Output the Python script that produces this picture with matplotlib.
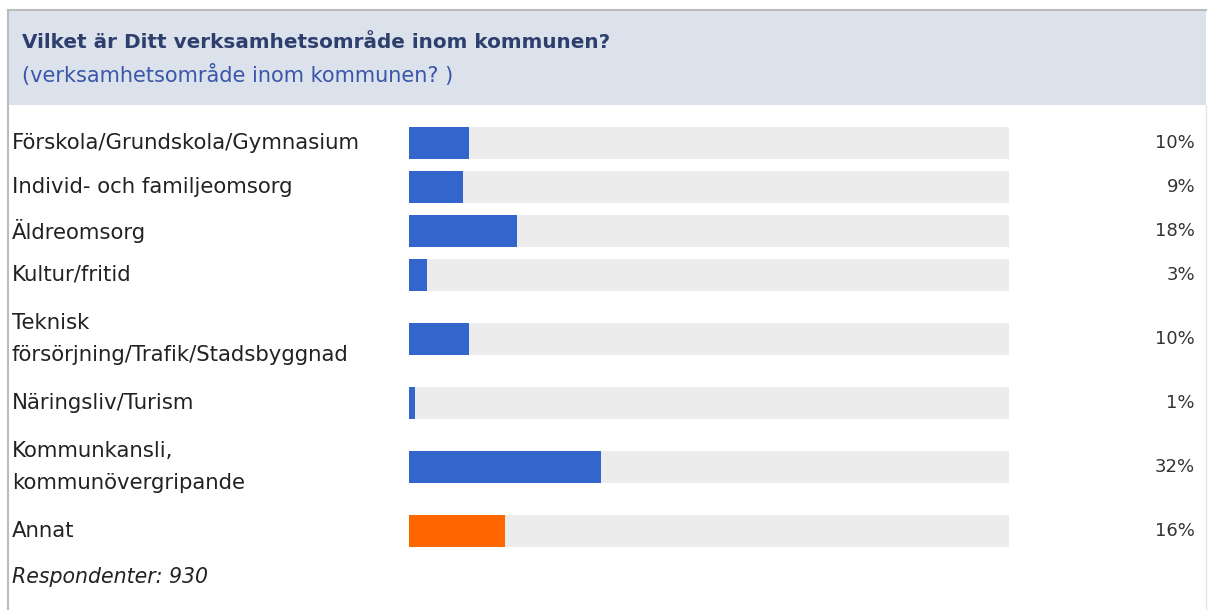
import matplotlib.pyplot as plt
from matplotlib.patches import Rectangle

# data
title = 'Vilket är Ditt verksamhetsområde inom kommunen?'
subtitle = '(verksamhetsområde inom kommunen? )'
labels = ['Förskola/Grundskola/Gymnasium',
          'Individ- och familjeomsorg',
          'Äldreomsorg',
          'Kultur/fritid',
          'Teknisk\nförsörjning/Trafik/Stadsbyggnad',
          'Näringsliv/Turism',
          'Kommunkansli,\nkommunövergripande',
          'Annat']
values = [10, 9, 18, 3, 10, 1, 32, 16]
colors = ['#3366cc'] * 7 + ['#ff6600']
respondents = 930

W, H = 1208, 610
fig = plt.figure(figsize=(W / 100, H / 100), dpi=100)

# background / frame in pixel coords
ax = fig.add_axes([0, 0, 1, 1])
ax.set_xlim(0, W)
ax.set_ylim(H, 0)
ax.axis('off')
ax.add_patch(Rectangle((8, 10), W - 10, 95, facecolor='#dce2ec', edgecolor='none'))
ax.plot([8, W - 2], [10, 10], color='#bbbbbb', lw=1.5)
ax.plot([8, 8], [10, H], color='#bbbbbb', lw=1.5)
ax.plot([W - 2, W - 2], [105, H], color='#e4e4e4', lw=1)
ax.text(22, 42, title, fontsize=14.4, fontweight='bold', color='#2e3f6e', va='center')
ax.text(22, 75, subtitle, fontsize=15, color='#3a56a8', va='center')

# row positions: rows with two lines are taller
centers = []
top = 121
for lab in labels:
    h = 4 + 40 * (lab.count('\n') + 1)
    centers.append(top + h / 2)
    top += h

for lab, c, v in zip(labels, centers, values):
    ax.text(12, c, lab, fontsize=15.3, color='#222222', va='center', linespacing=1.8)
    ax.text(1195, c, f'{v}%', fontsize=13, color='#333333', va='center', ha='right')

ax.text(12, top + 24, f'Respondenter: {respondents}', fontsize=14.8,
        style='italic', color='#222222', va='center')

# bars
bx = fig.add_axes([409 / W, 0, 600 / W, 1])
bx.set_xlim(0, 100)
bx.set_ylim(H, 0)
bx.axis('off')
bx.barh(centers, [100] * len(values), height=32, color='#ececec')
bx.barh(centers, values, height=32, color=colors)

fig.savefig('out.png', dpi=100)
